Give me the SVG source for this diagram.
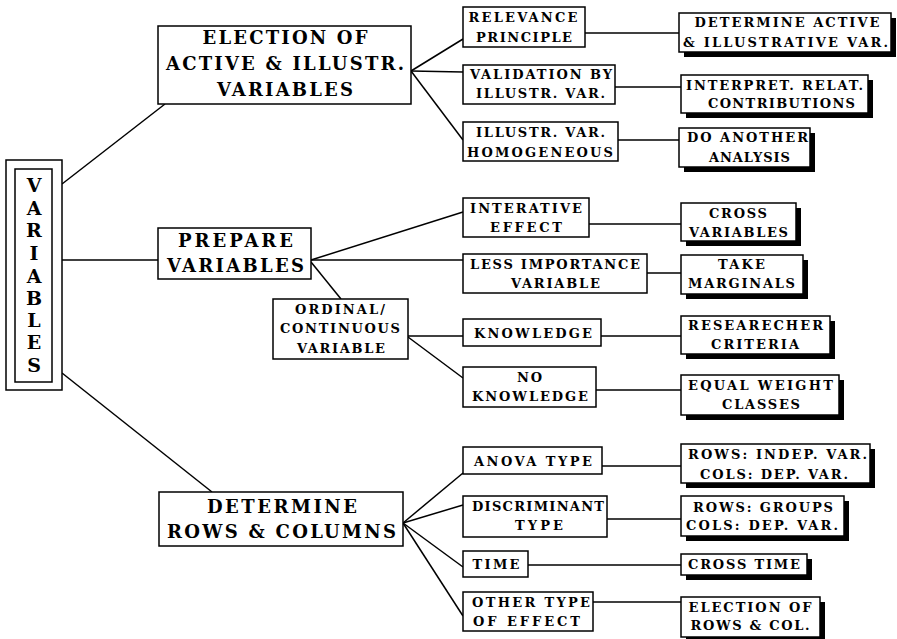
<svg xmlns="http://www.w3.org/2000/svg" width="897" height="639" viewBox="0 0 897 639">
<style>
.box{fill:#fff;stroke:#000;stroke-width:1.5}
.sh{fill:#000}
.big{font-family:"DejaVu Serif","Liberation Serif",serif;font-size:18px;font-weight:bold;text-anchor:middle;fill:#000}
.sm{font-family:"DejaVu Serif","Liberation Serif",serif;font-size:13px;font-weight:bold;text-anchor:middle;fill:#000}
.vl{font-family:"DejaVu Serif","Liberation Serif",serif;font-size:19px;font-weight:bold;text-anchor:middle;fill:#000}
#connectors line{stroke:#000;stroke-width:1.5;fill:none}
</style>
<rect width="897" height="639" fill="#fff"/>
<g id="connectors">
<line x1="62" y1="184" x2="165" y2="104"/>
<line x1="62" y1="260" x2="158" y2="260"/>
<line x1="62" y1="373" x2="212" y2="492"/>
<line x1="411" y1="71" x2="463" y2="39"/>
<line x1="411" y1="71" x2="463" y2="72"/>
<line x1="411" y1="71" x2="463" y2="140"/>
<line x1="585" y1="33" x2="679" y2="33"/>
<line x1="615" y1="87" x2="681" y2="87"/>
<line x1="618" y1="140" x2="679" y2="140"/>
<line x1="311" y1="260" x2="463" y2="212"/>
<line x1="311" y1="260" x2="463" y2="260"/>
<line x1="311" y1="262" x2="341" y2="299"/>
<line x1="589" y1="224" x2="681" y2="224"/>
<line x1="647" y1="273" x2="681" y2="273"/>
<line x1="408" y1="336" x2="463" y2="336"/>
<line x1="408" y1="337" x2="463" y2="378"/>
<line x1="601" y1="336" x2="681" y2="336"/>
<line x1="596" y1="390" x2="681" y2="390"/>
<line x1="403" y1="523" x2="463" y2="473"/>
<line x1="403" y1="523" x2="463" y2="505"/>
<line x1="403" y1="523" x2="463" y2="567"/>
<line x1="403" y1="523" x2="463" y2="616"/>
<line x1="602" y1="466" x2="681" y2="466"/>
<line x1="607" y1="519" x2="681" y2="519"/>
<line x1="528" y1="565" x2="681" y2="565"/>
<line x1="593" y1="602" x2="681" y2="602"/>
</g>

<g id="variables">
<rect class="box" x="6" y="160" width="56" height="230"/>
<rect class="box" x="15" y="169" width="37" height="213"/>
<text class="vl" x="34" y="192">V</text>
<text class="vl" x="34" y="215">A</text>
<text class="vl" x="34" y="237">R</text>
<text class="vl" x="34" y="260">I</text>
<text class="vl" x="34" y="283">A</text>
<text class="vl" x="34" y="305">B</text>
<text class="vl" x="34" y="327">L</text>
<text class="vl" x="34" y="349">E</text>
<text class="vl" x="34" y="372">S</text>
</g>

<g id="election">
<rect class="box" x="158" y="26" width="253" height="78"/>
<text class="big" x="285" y="44" textLength="165">ELECTION OF</text>
<text class="big" x="285" y="70" textLength="238">ACTIVE &amp; ILLUSTR.</text>
<text class="big" x="285" y="96" textLength="136">VARIABLES</text>
</g>

<g id="prepare">
<rect class="box" x="158" y="228" width="153" height="51"/>
<text class="big" x="235.5" y="247" textLength="115">PREPARE</text>
<text class="big" x="235.5" y="272" textLength="137">VARIABLES</text>
</g>

<g id="determine">
<rect class="box" x="159" y="492" width="244" height="54"/>
<text class="big" x="282" y="513" textLength="150">DETERMINE</text>
<text class="big" x="281.5" y="538" textLength="229">ROWS &amp; COLUMNS</text>
</g>

<g id="relevance">
<rect class="box" x="463" y="7" width="122" height="40"/>
<text class="sm" x="523" y="22" textLength="109">RELEVANCE</text>
<text class="sm" x="524" y="42" textLength="96">PRINCIPLE</text>
</g>

<g id="validation">
<rect class="box" x="463" y="65" width="152" height="39"/>
<text class="sm" x="541" y="79" textLength="142">VALIDATION BY</text>
<text class="sm" x="540.5" y="98" textLength="129">ILLUSTR. VAR.</text>
</g>

<g id="homogeneous">
<rect class="box" x="463" y="122" width="155" height="39"/>
<text class="sm" x="540.5" y="137" textLength="129">ILLUSTR. VAR.</text>
<text class="sm" x="540" y="157" textLength="146">HOMOGENEOUS</text>
</g>

<g id="determine-active">
<rect class="sh" x="684" y="18" width="212" height="39"/>
<rect class="box" x="679" y="13" width="212" height="39"/>
<text class="sm" x="787" y="27" textLength="185">DETERMINE ACTIVE</text>
<text class="sm" x="785.5" y="47" textLength="205">&amp; ILLUSTRATIVE VAR.</text>
</g>

<g id="interpret">
<rect class="sh" x="686" y="80" width="187" height="38"/>
<rect class="box" x="681" y="75" width="187" height="38"/>
<text class="sm" x="774.5" y="90" textLength="177">INTERPRET. RELAT.</text>
<text class="sm" x="781.5" y="108" textLength="147">CONTRIBUTIONS</text>
</g>

<g id="do-another">
<rect class="sh" x="684" y="133" width="131" height="39"/>
<rect class="box" x="679" y="128" width="131" height="39"/>
<text class="sm" x="747.5" y="142" textLength="121">DO ANOTHER</text>
<text class="sm" x="749.5" y="162" textLength="81">ANALYSIS</text>
</g>

<g id="interative">
<rect class="box" x="463" y="198" width="126" height="39"/>
<text class="sm" x="526" y="213" textLength="112">INTERATIVE</text>
<text class="sm" x="526" y="232" textLength="72">EFFECT</text>
</g>

<g id="less-importance">
<rect class="box" x="463" y="254" width="184" height="39"/>
<text class="sm" x="555" y="269" textLength="170">LESS IMPORTANCE</text>
<text class="sm" x="555.5" y="288" textLength="89">VARIABLE</text>
</g>

<g id="ordinal">
<rect class="box" x="273" y="299" width="135" height="60"/>
<text class="sm" x="340" y="314" textLength="90">ORDINAL/</text>
<text class="sm" x="340" y="333" textLength="120">CONTINUOUS</text>
<text class="sm" x="341" y="353" textLength="88">VARIABLE</text>
</g>

<g id="knowledge">
<rect class="box" x="463" y="319" width="138" height="27"/>
<text class="sm" x="533" y="338" textLength="118">KNOWLEDGE</text>
</g>

<g id="no-knowledge">
<rect class="box" x="463" y="367" width="133" height="40"/>
<text class="sm" x="529.5" y="382" textLength="25">NO</text>
<text class="sm" x="530" y="401" textLength="116">KNOWLEDGE</text>
</g>

<g id="cross-variables">
<rect class="sh" x="686" y="208" width="115" height="38"/>
<rect class="box" x="681" y="203" width="115" height="38"/>
<text class="sm" x="738" y="218" textLength="58">CROSS</text>
<text class="sm" x="738.5" y="237" textLength="99">VARIABLES</text>
</g>

<g id="take-marginals">
<rect class="sh" x="686" y="260" width="122" height="39"/>
<rect class="box" x="681" y="255" width="122" height="39"/>
<text class="sm" x="741.5" y="269" textLength="47">TAKE</text>
<text class="sm" x="741.5" y="288" textLength="107">MARGINALS</text>
</g>

<g id="researecher">
<rect class="sh" x="686" y="321" width="149" height="38"/>
<rect class="box" x="681" y="316" width="149" height="38"/>
<text class="sm" x="755.5" y="330" textLength="135">RESEARECHER</text>
<text class="sm" x="755" y="349" textLength="88">CRITERIA</text>
</g>

<g id="equal-weight">
<rect class="sh" x="686" y="380" width="158" height="40"/>
<rect class="box" x="681" y="375" width="158" height="40"/>
<text class="sm" x="760.5" y="390" textLength="145">EQUAL WEIGHT</text>
<text class="sm" x="761" y="409" textLength="78">CLASSES</text>
</g>

<g id="anova">
<rect class="box" x="463" y="447" width="139" height="27"/>
<text class="sm" x="533" y="466" textLength="118">ANOVA TYPE</text>
</g>

<g id="discriminant">
<rect class="box" x="463" y="496" width="144" height="41"/>
<text class="sm" x="538" y="511" textLength="132">DISCRIMINANT</text>
<text class="sm" x="539" y="530" textLength="48">TYPE</text>
</g>

<g id="time">
<rect class="box" x="463" y="551" width="65" height="26"/>
<text class="sm" x="496" y="569" textLength="47">TIME</text>
</g>

<g id="other-type">
<rect class="box" x="463" y="592" width="130" height="39"/>
<text class="sm" x="531" y="607" textLength="118">OTHER TYPE</text>
<text class="sm" x="526.5" y="626" textLength="107">OF EFFECT</text>
</g>

<g id="rows-indep">
<rect class="sh" x="686" y="449" width="189" height="39"/>
<rect class="box" x="681" y="444" width="189" height="39"/>
<text class="sm" x="777.5" y="459" textLength="179">ROWS: INDEP. VAR.</text>
<text class="sm" x="774" y="479" textLength="148">COLS: DEP. VAR.</text>
</g>

<g id="rows-groups">
<rect class="sh" x="686" y="501" width="163" height="40"/>
<rect class="box" x="681" y="496" width="163" height="40"/>
<text class="sm" x="763" y="512" textLength="140">ROWS: GROUPS</text>
<text class="sm" x="762" y="530" textLength="152">COLS: DEP. VAR.</text>
</g>

<g id="cross-time">
<rect class="sh" x="686" y="559" width="126" height="21"/>
<rect class="box" x="681" y="554" width="126" height="21"/>
<text class="sm" x="744" y="569" textLength="112">CROSS TIME</text>
</g>

<g id="election-rows">
<rect class="sh" x="686" y="602" width="139" height="40"/>
<rect class="box" x="681" y="597" width="139" height="40"/>
<text class="sm" x="750" y="612" textLength="123">ELECTION OF</text>
<text class="sm" x="750" y="630" textLength="119">ROWS &amp; COL.</text>
</g>
</svg>
